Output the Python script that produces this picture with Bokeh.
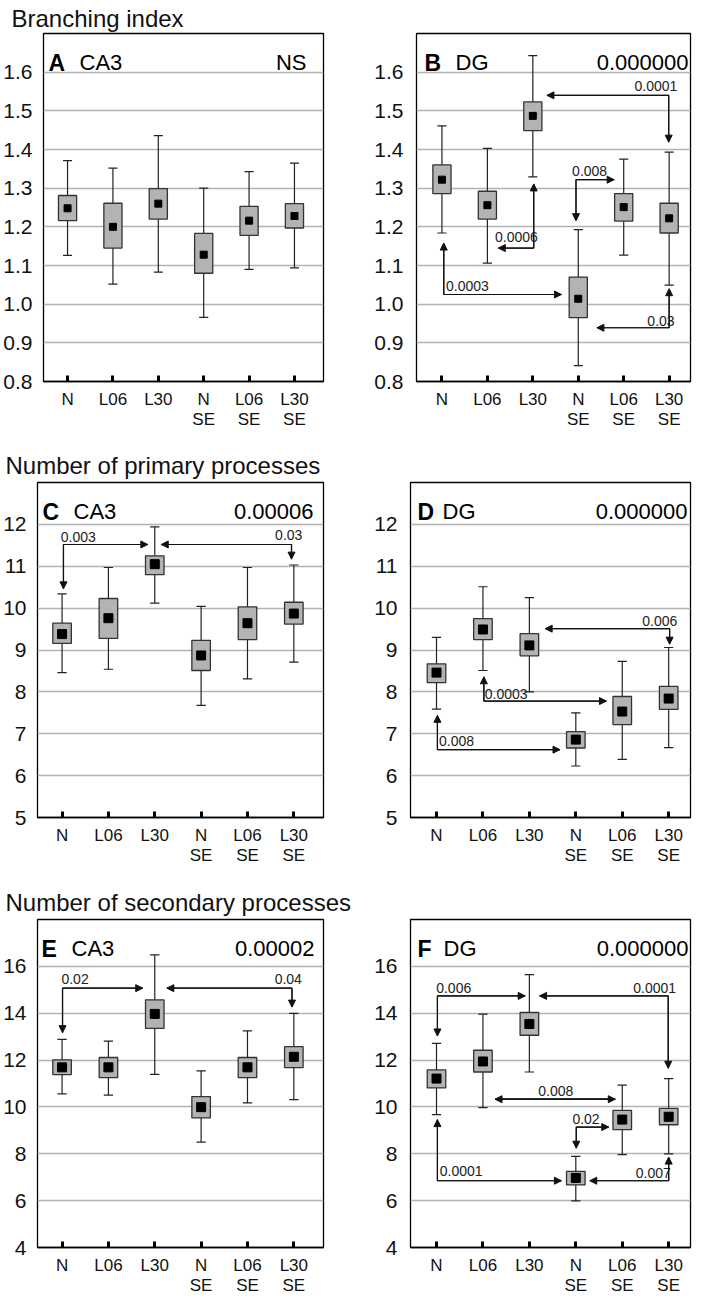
from bokeh.plotting import figure
from bokeh.layouts import column, row
from bokeh.models import Range1d, FixedTicker, Arrow, NormalHead, NumeralTickFormatter, Title
from bokeh.embed import file_html
from bokeh.resources import INLINE
from bokeh.core.properties import value

FONT = "Liberation Sans"

groups = ["N", "L06", "L30", "N\nSE", "L06\nSE", "L30\nSE"]
positions = [1, 2, 3, 4, 5, 6]

# ---- Branching index ----
bi_ticks = [0.8, 0.9, 1.0, 1.1, 1.2, 1.3, 1.4, 1.5, 1.6]
a_low = [1.126, 1.052, 1.083, 0.966, 1.090, 1.094]
a_q1 = [1.216, 1.145, 1.220, 1.080, 1.178, 1.197]
a_mean = [1.248, 1.200, 1.260, 1.128, 1.216, 1.228]
a_q3 = [1.281, 1.261, 1.299, 1.183, 1.253, 1.260]
a_high = [1.371, 1.352, 1.436, 1.300, 1.343, 1.365]

b_low = [1.184, 1.106, 1.329, 0.841, 1.127, 1.049]
b_q1 = [1.286, 1.220, 1.449, 0.965, 1.215, 1.184]
b_mean = [1.322, 1.256, 1.487, 1.014, 1.251, 1.222]
b_q3 = [1.360, 1.292, 1.523, 1.070, 1.286, 1.261]
b_high = [1.461, 1.403, 1.643, 1.193, 1.375, 1.393]

b_paths_x = [[3.31, 5.99, 5.99], [3.95, 3.95, 4.79], [3.02, 3.02, 2.24], [1.04, 1.04, 3.63], [6.0, 6.0, 4.41]]
b_paths_y = [[1.540, 1.540, 1.419], [1.216, 1.322, 1.322], [1.311, 1.145, 1.145], [1.158, 1.025, 1.025], [1.040, 0.939, 0.939]]
b_lab_text = ["0.0001", "0.008", "0.0006", "0.0003", "0.03"]
b_lab_x = [5.71, 4.25, 2.64, 1.56, 5.82]
b_lab_y = [1.563, 1.344, 1.175, 1.047, 0.957]

# ---- Number of primary processes ----
pp_ticks = [5, 6, 7, 8, 9, 10, 11, 12]
c_low = [8.46, 8.54, 10.12, 7.68, 8.31, 8.71]
c_q1 = [9.16, 9.28, 10.80, 8.51, 9.25, 9.62]
c_mean = [9.38, 9.76, 11.05, 8.87, 9.64, 9.87]
c_q3 = [9.64, 10.23, 11.25, 9.23, 10.03, 10.14]
c_high = [10.34, 10.97, 11.94, 10.04, 10.97, 11.03]

c_paths_x = [[1.03, 1.03, 2.85], [3.14, 5.95, 5.95]]
c_paths_y = [[10.46, 11.52, 11.52], [11.52, 11.52, 11.17]]
c_lab_text = ["0.003", "0.03"]
c_lab_x = [1.35, 5.89]
c_lab_y = [11.69, 11.75]

d_low = [7.59, 8.51, 8.00, 6.23, 6.39, 6.67]
d_q1 = [8.22, 9.25, 8.86, 6.66, 7.22, 7.58]
d_mean = [8.46, 9.49, 9.11, 6.86, 7.53, 7.84]
d_q3 = [8.67, 9.75, 9.39, 7.05, 7.89, 8.13]
d_high = [9.30, 10.51, 10.25, 7.50, 8.73, 9.06]

d_paths_x = [[3.34, 6.02, 6.02], [2.02, 2.02, 4.66], [1.02, 1.02, 3.66]]
d_paths_y = [[9.51, 9.51, 9.14], [8.36, 7.78, 7.78], [7.44, 6.62, 6.62]]
d_lab_text = ["0.006", "0.0003", "0.008"]
d_lab_x = [5.81, 2.50, 1.43]
d_lab_y = [9.69, 7.94, 6.82]

# ---- Number of secondary processes ----
sp_ticks = [4, 6, 8, 10, 12, 14, 16]
e_low = [10.56, 10.50, 11.39, 8.50, 10.17, 10.31]
e_q1 = [11.38, 11.25, 13.35, 9.53, 11.25, 11.68]
e_mean = [11.69, 11.69, 13.97, 9.99, 11.69, 12.14]
e_q3 = [12.01, 12.11, 14.57, 10.44, 12.11, 12.57]
e_high = [12.88, 12.81, 16.49, 11.54, 13.25, 13.99]

e_paths_x = [[1.01, 1.01, 2.74], [3.26, 5.96, 5.96]]
e_paths_y = [[13.17, 15.07, 15.07], [15.07, 15.07, 14.26]]
e_lab_text = ["0.02", "0.04"]
e_lab_x = [1.28, 5.88]
e_lab_y = [15.46, 15.46]

f_low = [9.67, 9.97, 11.49, 5.99, 7.96, 8.00]
f_q1 = [10.81, 11.49, 13.06, 6.67, 9.03, 9.24]
f_mean = [11.21, 11.94, 13.54, 6.97, 9.46, 9.58]
f_q3 = [11.58, 12.42, 14.03, 7.25, 9.85, 9.94]
f_high = [12.71, 13.96, 15.65, 7.89, 10.93, 11.21]

f_paths_x = [[1.02, 1.02, 2.91], [3.22, 5.99, 5.99], [2.26, 4.85], [4.01, 4.01, 4.71], [1.02, 1.02, 3.69], [6.0, 6.0, 4.30]]
f_paths_y = [[13.03, 14.74, 14.74], [14.74, 14.74, 11.65], [10.33, 10.33], [8.24, 9.14, 9.14], [9.46, 6.85, 6.85], [7.86, 6.85, 6.85]]
f_lab_text = ["0.006", "0.0001", "0.008", "0.02", "0.0001", "0.007"]
f_lab_x = [1.37, 5.70, 3.57, 4.22, 1.53, 5.67]
f_lab_y = [15.08, 15.08, 10.67, 9.5, 7.26, 7.17]

INK = "#111111"


def panel(letter, region, pval, low, q1, mean, q3, high, yticks, yr, paths_x, paths_y,
          lab_x, lab_y, lab_text, title, left, height, btop, bbottom, msize,
          letter_off, name_off, pval_off, fmt=None, title_standoff=3):
    if left:
        xr = Range1d(0.47, 6.64)
        width, bl, br, standoff = 371, 34, 48, 5
    else:
        xr = Range1d(0.44, 6.47)
        width, bl, br, standoff = 322, 37, 3, 7
    p = figure(width=width, height=height, x_range=xr, y_range=Range1d(*yr),
               output_backend="svg", toolbar_location=None,
               min_border_left=bl, min_border_right=br,
               min_border_top=btop, min_border_bottom=bbottom)
    if title:
        p.add_layout(Title(text=title, align="left", offset=-(bl - 2),
                           text_font_size="24px", text_font=FONT,
                           text_font_style="normal", text_color="#111111",
                           standoff=title_standoff), "above")
    p.outline_line_color = "black"
    p.outline_line_width = 1.3
    p.outline_line_alpha = 1.0
    p.background_fill_color = "white"
    p.xgrid.grid_line_color = None
    p.ygrid.ticker = FixedTicker(ticks=yticks)
    p.ygrid.grid_line_color = "#b3b3b3"
    p.ygrid.grid_line_width = 1.4

    p.yaxis.ticker = FixedTicker(ticks=yticks)
    if fmt:
        p.yaxis.formatter = NumeralTickFormatter(format=fmt)
    p.yaxis.major_tick_line_color = None
    p.yaxis.minor_tick_line_color = None
    p.yaxis.axis_line_color = None
    p.yaxis.major_label_standoff = standoff
    p.yaxis.major_label_text_font = FONT
    p.yaxis.major_label_text_font_size = "21px"
    p.yaxis.major_label_text_color = "#111111"

    p.xaxis.ticker = FixedTicker(ticks=positions)
    p.xaxis.major_label_overrides = {k: g for k, g in zip(positions, groups)}
    p.xaxis.major_tick_in = 6
    p.xaxis.major_tick_out = 0
    p.xaxis.major_tick_line_width = 3
    p.xaxis.major_tick_line_color = "black"
    p.xaxis.minor_tick_line_color = None
    p.xaxis.axis_line_color = "black"
    p.xaxis.axis_line_width = 1.3
    p.xaxis.major_label_standoff = 8
    p.xaxis.major_label_text_font = FONT
    p.xaxis.major_label_text_font_size = "17px"
    p.xaxis.major_label_text_line_height = 1.06
    p.xaxis.major_label_text_color = "#111111"

    # whiskers and caps
    cw = 0.1
    p.segment(x0=positions, y0=low, x1=positions, y1=high, line_color="#222222", line_width=1.2)
    p.segment(x0=[x - cw for x in positions], y0=high, x1=[x + cw for x in positions], y1=high,
              line_color="#222222", line_width=1.2)
    p.segment(x0=[x - cw for x in positions], y0=low, x1=[x + cw for x in positions], y1=low,
              line_color="#222222", line_width=1.2)
    # boxes
    p.vbar(x=positions, width=0.4, bottom=q1, top=q3, fill_color="#b3b3b3",
           line_color="#333333", line_width=1.3)
    # means
    p.scatter(x=positions, y=mean, marker="square", size=msize, fill_color="black", line_color="black")

    # comparison brackets
    for xs, ys in zip(paths_x, paths_y):
        p.line(xs, ys, line_color=INK, line_width=1.2)
        for (xa, ya, xb, yb) in [(xs[1], ys[1], xs[0], ys[0]), (xs[-2], ys[-2], xs[-1], ys[-1])]:
            p.add_layout(Arrow(end=NormalHead(size=7, fill_color=INK, line_color=INK, line_width=1),
                               x_start=xa, y_start=ya, x_end=xb, y_end=yb,
                               line_color=INK, line_width=1.2))
    if lab_text:
        p.text(x=lab_x, y=lab_y, text=lab_text, text_font=value(FONT), text_font_size="14px",
               text_align="center", text_baseline="middle", text_color="#222222")

    # panel header
    p.text(x=[xr.start], y=[yr[1]], text=[letter], x_offset=letter_off, y_offset=29,
           text_font=value(FONT), text_font_size="23px", text_font_style="bold",
           text_align="left", text_baseline="alphabetic", text_color="black")
    p.text(x=[xr.start], y=[yr[1]], text=[region], x_offset=name_off, y_offset=29,
           text_font=value(FONT), text_font_size="22px",
           text_align="left", text_baseline="alphabetic", text_color="black")
    p.text(x=[xr.end], y=[yr[1]], text=[pval], x_offset=-pval_off, y_offset=29,
           text_font=value(FONT), text_font_size="22px",
           text_align="right", text_baseline="alphabetic", text_color="black")
    return p


H1, T1, B1 = 445, 33, 64
H2, T2, B2 = 437, 36, 65
H3, T3, B3 = 415, 36, 49

pa = panel("A", "CA3", "NS", a_low, a_q1, a_mean, a_q3, a_high, bi_ticks, (0.8, 1.70),
           [], [], [], [], [], "Branching index", True, H1, T1, B1, 7, 5, 36, 17, fmt="0.0",
           title_standoff=3)
pb = panel("B", "DG", "0.000000", b_low, b_q1, b_mean, b_q3, b_high, bi_ticks, (0.8, 1.70),
           b_paths_x, b_paths_y, b_lab_x, b_lab_y, b_lab_text, None, False, H1, T1, B1, 7, 8, 39, 2,
           fmt="0.0")
pc = panel("C", "CA3", "0.00006", c_low, c_q1, c_mean, c_q3, c_high, pp_ticks, (5, 13),
           c_paths_x, c_paths_y, c_lab_x, c_lab_y, c_lab_text, "Number of primary processes",
           True, H2, T2, B2, 9, 5, 36, 10, title_standoff=8)
pd_ = panel("D", "DG", "0.000000", d_low, d_q1, d_mean, d_q3, d_high, pp_ticks, (5, 13),
            d_paths_x, d_paths_y, d_lab_x, d_lab_y, d_lab_text, None, False, H2, T2, B2, 9, 7, 32, 3)
pe = panel("E", "CA3", "0.00002", e_low, e_q1, e_mean, e_q3, e_high, sp_ticks, (4, 18),
           e_paths_x, e_paths_y, e_lab_x, e_lab_y, e_lab_text, "Number of secondary processes",
           True, H3, T3, B3, 9, 4, 34, 9, title_standoff=8)
pf = panel("F", "DG", "0.000000", f_low, f_q1, f_mean, f_q3, f_high, sp_ticks, (4, 18),
           f_paths_x, f_paths_y, f_lab_x, f_lab_y, f_lab_text, None, False, H3, T3, B3, 9, 7, 33, 2)

layout = column(row(pa, pb), row(pc, pd_), row(pe, pf))
open("out.html", "w").write(file_html(layout, INLINE))
